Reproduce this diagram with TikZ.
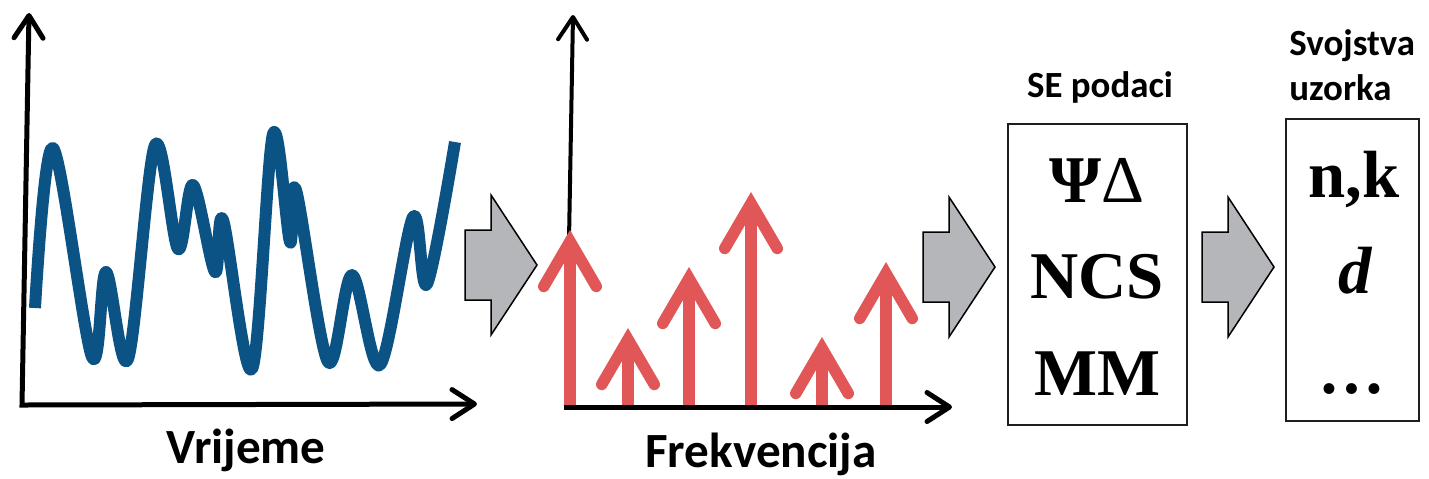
\documentclass[tikz,border=0pt]{standalone}
\usepackage{fontspec}
\setmainfont{Liberation Serif}
\newfontfamily\calibri{Carlito}
\usetikzlibrary{arrows.meta}
\definecolor{wave}{RGB}{11,82,133}
\definecolor{spikered}{RGB}{225,87,87}
\definecolor{blockgray}{RGB}{180,182,185}
\definecolor{frame}{RGB}{30,30,30}

\begin{document}
\begin{tikzpicture}[x=0.02cm, y=-0.02cm,
  barb/.tip={Straight Barb[line cap=round, line join=round, length=0.45cm, width=0.58cm]},
  axisline/.style={line width=0.1cm, line join=miter},
  signal/.style={wave, line width=0.24cm, line cap=butt, line join=round},
  spike/.style={spikered, line width=0.23cm,
    -{Straight Barb[line cap=round, line join=miter, length=0.9cm, width=1.05cm]}},
  blockarrow/.pic={\draw[fill=blockgray, draw=black, line width=0.03cm, line join=miter]
    (0,-35) -- (26,-35) -- (26,-70) -- (72,0) -- (26,70) -- (26,35) -- (0,35) -- cycle;},
  caption/.style={font=\calibri\bfseries\fontsize{28}{28}\selectfont, anchor=base, inner sep=0pt},
  header/.style={font=\calibri\bfseries\fontsize{21}{21}\selectfont, inner sep=0pt},
  panel/.style={draw=frame, line width=0.04cm, inner sep=0pt},
  symb/.style={font=\bfseries\fontsize{38}{38}\selectfont, anchor=base, inner sep=0pt}
]
\useasboundingbox (0,0) rectangle (1429,478);

% time-domain signal
\draw[signal] plot[smooth, tension=0.55] coordinates {
  (35,308) (53,148) (92,357) (106,272) (128,359) (155,145) (178,249)
  (193,185) (215,272) (223,220) (252,369) (273,134) (290,242) (296,190)
  (328,362) (352,275) (380,365) (413,217) (427,284) (455,142)};
\draw[axisline, barb-barb] (29,13) -- (22,405) -- (477,404);
\node[caption] (time) at (246,463) {Vrijeme};

% spectrum
\draw[line width=0.08cm, -barb] (569,240) -- (573,15);
\foreach \x/\t in {570/230, 628/328, 689/267, 751/192, 822/337, 886/262}
  \draw[spike] (\x,407) -- (\x,\t);
\draw[line width=0.1cm, -barb] (564,407) -- (952,407);
\node[caption] (freq) at (761,467) {Frekvencija};

% processing steps
\pic (step1) at (465,265) {blockarrow};
\pic (step2) at (923,267) {blockarrow};
\pic (step3) at (1202,267) {blockarrow};

% ellipsometry data
\node[header, anchor=base] (selabel) at (1100,97) {SE podaci};
\node[panel, minimum width=3.58cm, minimum height=6.02cm] (sebox) at (1097.5,274.5) {};
\node[symb] (psidelta) at (1097,202) {Ψ\mdseries Δ};
\node[symb] (ncs) at (1097,298) {NCS};
\node[symb] (mm) at (1097,395) {MM};

% sample properties
\node[header, anchor=base west] (proplabel1) at (1289,55) {Svojstva};
\node[header, anchor=base west] (proplabel2) at (1289,100) {uzorka};
\node[panel, minimum width=2.66cm, minimum height=6.04cm] (propbox) at (1352.5,270) {};
\node[symb] (nk) at (1354,197) {n,k};
\node[symb] (thick) at (1355,293) {\itshape d};
\node[symb] (more) at (1352,393) {…};
\end{tikzpicture}
\end{document}
